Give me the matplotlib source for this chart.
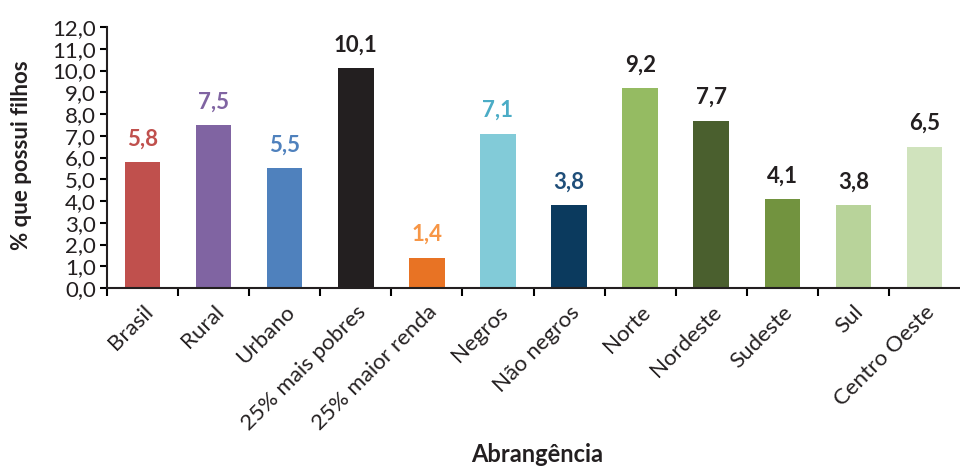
import matplotlib
matplotlib.use("Agg")
import matplotlib.pyplot as plt
import numpy as np

categories = ["Brasil", "Rural", "Urbano", "25% mais pobres", "25% maior renda",
              "Negros", "Não negros", "Norte", "Nordeste", "Sudeste", "Sul", "Centro Oeste"]
values = [5.8, 7.5, 5.5, 10.1, 1.4, 7.1, 3.8, 9.2, 7.7, 4.1, 3.8, 6.5]
bar_colors = ["#C0504D", "#8064A2", "#4F81BD", "#231F20", "#E87324", "#82CBD8",
              "#0B3A5E", "#95BB62", "#4A5F2E", "#72933F", "#B8D39A", "#D0E3BD"]
label_colors = ["#C0504D", "#8064A2", "#4F81BD", "#231F20", "#F79646", "#4BACC6",
                "#1F4E79", "#231F20", "#231F20", "#231F20", "#231F20", "#231F20"]
yticks = np.arange(0, 12.5, 1.0)

plt.rcParams['font.family'] = ['Lato', 'DejaVu Sans']

fig = plt.figure(figsize=(9.6, 4.68), dpi=100)
ax = fig.add_axes([107/960, 1-288/468, (960-107)/960, (288-27)/468])

x = np.arange(len(categories))
ax.bar(x, values, width=0.5, color=bar_colors)
for xi, v, c in zip(x, values, label_colors):
    ax.annotate(f"{v:.1f}".replace(".", ","), (xi, v), xytext=(0, 9), textcoords="offset points",
                ha="center", va="bottom", fontsize=16, fontweight="bold", color=c)

ax.set_xlim(-0.5, len(categories) - 0.5)
ax.set_ylim(0, 12)
ax.set_yticks(yticks)
ax.set_yticklabels([f"{t:.1f}".replace(".", ",") for t in yticks], fontsize=16, color="#231F20")
ax.set_xticks(x)
ax.set_xticklabels(categories, rotation=45, ha="right", rotation_mode="anchor", fontsize=16,
                   color="#231F20")
ax.tick_params(axis="x", length=0, pad=10)
ax.set_xticks(np.arange(0, len(categories)) - 0.5, minor=True)
ax.tick_params(axis="x", which="minor", length=6, width=1.5, direction="out")
ax.tick_params(axis="y", length=5, width=1.5, direction="out", pad=3)
for s in ["top", "right"]:
    ax.spines[s].set_visible(False)
for s in ["left", "bottom"]:
    ax.spines[s].set_linewidth(1.5)
    ax.spines[s].set_color("#231F20")

fig.text(22/960, 1 - 155/468, "% que possui filhos", rotation=90, ha="center", va="center",
         fontsize=16, fontweight="bold", color="#231F20")
fig.text(537/960, 2/468, "Abrangência", ha="center", va="bottom", fontsize=17,
         fontweight="bold", color="#231F20")

fig.savefig("out.png", dpi=100)
